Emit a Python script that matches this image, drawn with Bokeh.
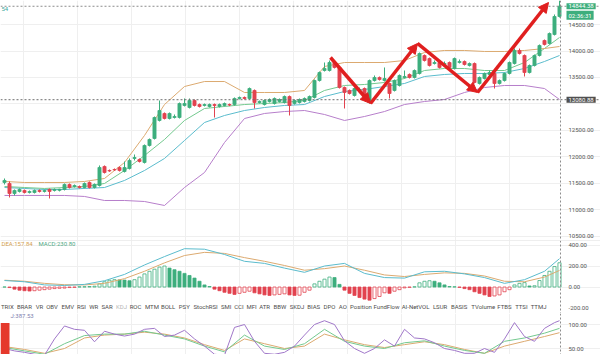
import numpy as np
from bokeh.plotting import figure
from bokeh.layouts import column
from bokeh.models import (Range1d, FixedTicker, Span, Label, Arrow, NormalHead,
                          ColumnDataSource, BoxAnnotation, Grid)
from bokeh.embed import file_html
from bokeh.resources import INLINE
from bokeh.core.properties import value

# ---------------- data ----------------
candle_open = [11519, 11500, 11311, 11349, 11368, 11330, 11330, 11368, 11349, 11387,
               11368, 11370, 11387, 11481, 11443, 11443, 11424, 11519, 11424, 11462,
               11821, 11745, 11764, 11802, 11726, 11783, 11972, 11953, 11896, 12217,
               12349, 12689, 12821, 12726, 12745, 12745, 12972, 12934, 13066, 12990,
               12972, 12953, 12990, 12953, 12972, 12990, 12990, 13104, 13123, 13104,
               13255, 13028, 12990, 13047, 13009, 13047, 13028, 13141, 13009, 13028,
               13047, 13066, 13123, 13443, 13632, 13632, 13783, 13689, 13311, 13255,
               13160, 13255, 13292, 13028, 13443, 13500, 13443, 13387, 13255, 13349,
               13500, 13557, 13500, 13576, 13915, 13858, 13764, 13783, 13745, 13783,
               13670, 13783, 13802, 13726, 13764, 13387, 13481, 13557, 13576, 13387,
               13443, 13576, 13764, 14010, 13915, 13594, 13726, 13915, 14198, 14142,
               14311, 14651]
candle_close = [11557, 11311, 11368, 11387, 11330, 11349, 11368, 11349, 11368, 11349,
                11387, 11390, 11481, 11424, 11462, 11424, 11500, 11424, 11481, 11802,
                11707, 11736, 11755, 11745, 11802, 11934, 11990, 11915, 12217, 12330,
                12745, 12877, 12726, 12821, 12764, 13009, 13009, 13066, 12972, 12953,
                12990, 12990, 12972, 12990, 13009, 12980, 13104, 13123, 13104, 13292,
                13028, 13047, 13066, 13085, 13104, 13085, 13141, 12972, 13066, 13085,
                13104, 13141, 13443, 13594, 13670, 13783, 13689, 13311, 13217, 13198,
                13292, 13274, 13123, 13443, 13500, 13462, 13481, 13198, 13443, 13538,
                13519, 13500, 13632, 13953, 13821, 13726, 13783, 13689, 13764, 13689,
                13858, 13802, 13745, 13764, 13406, 13500, 13576, 13594, 13387, 13443,
                13576, 13783, 14010, 13953, 13594, 13726, 13915, 14104, 14123, 14330,
                14651, 14844]
candle_high = [11594, 11538, 11387, 11406, 11387, 11368, 11387, 11387, 11387, 11406,
               11406, 11400, 11500, 11500, 11481, 11462, 11519, 11538, 11500, 11840,
               11840, 11764, 11783, 11821, 11915, 11972, 12047, 11972, 12236, 12349,
               12764, 13066, 12840, 12840, 12802, 13028, 13104, 13104, 13085, 13009,
               13009, 13009, 13009, 13009, 13028, 13009, 13123, 13141, 13141, 13311,
               13274, 13066, 13085, 13104, 13123, 13104, 13160, 13160, 13085, 13104,
               13123, 13160, 13462, 13613, 13783, 13821, 13821, 13708, 13330, 13274,
               13311, 13311, 13311, 13462, 13538, 13519, 13689, 13406, 13462, 13557,
               13632, 13576, 13651, 13972, 13934, 13877, 13821, 13802, 13802, 13802,
               13877, 13840, 13821, 13783, 13783, 13519, 13594, 13632, 13594, 13462,
               13594, 13802, 14047, 14047, 13934, 13745, 13934, 14123, 14217, 14349,
               14689, 14953]
candle_low = [11481, 11236, 11274, 11330, 11311, 11311, 11311, 11330, 11330, 11217,
              11349, 11350, 11368, 11406, 11424, 11406, 11406, 11406, 11406, 11443,
              11688, 11720, 11740, 11726, 11707, 11764, 11934, 11896, 11877, 12198,
              12330, 12670, 12708, 12708, 12726, 12726, 12953, 12915, 12953, 12934,
              12953, 12934, 12745, 12934, 12953, 12960, 12972, 13085, 13085, 13085,
              12915, 13009, 12972, 13028, 12990, 13028, 13009, 12783, 12990, 13009,
              13028, 13047, 13104, 13424, 13613, 13613, 13670, 13292, 12915, 13179,
              13141, 13236, 13104, 13009, 13424, 13443, 13424, 13104, 13236, 13330,
              13481, 13481, 13481, 13557, 13802, 13708, 13745, 13670, 13726, 13670,
              13651, 13764, 13726, 13708, 13387, 13368, 13462, 13519, 13292, 13368,
              13424, 13557, 13745, 13934, 13519, 13576, 13708, 13896, 14104, 14123,
              14293, 14632]

# indicator lines sampled every 4th candle (plus the last one)
line_idx = list(range(0, 109, 4)) + [111]
boll_upper = [11538, 11519, 11519, 11519, 11538, 11594, 11896, 12406, 12990, 13330,
              13424, 13424, 13217, 13217, 13217, 13255, 13708, 13783, 13783, 13783,
              13821, 13972, 14010, 14010, 13991, 13991, 14010, 14047, 14085]
boll_lower = [11274, 11274, 11274, 11274, 11255, 11179, 11179, 11160, 11085, 11424,
              11707, 12273, 12726, 12821, 12858, 12877, 12802, 12689, 12764, 12858,
              12990, 13047, 13085, 13217, 13311, 13349, 13349, 13292, 13085]
ma_fast = [11443, 11424, 11406, 11424, 11443, 11500, 11745, 12028, 12330, 12689,
           12915, 12953, 12990, 13009, 13028, 13066, 13255, 13349, 13368, 13406,
           13481, 13632, 13670, 13670, 13632, 13632, 13783, 14047, 14255]
ma_slow = [11424, 11406, 11387, 11387, 11406, 11424, 11557, 11745, 11972, 12311,
           12651, 12783, 12877, 12934, 12972, 12990, 13141, 13236, 13274, 13330,
           13387, 13519, 13557, 13576, 13576, 13594, 13670, 13802, 13915]

macd_dif = [62, 50, 20, 15, 25, 60, 120, 210, 290, 365, 360, 310, 245, 225, 180,
            140, 200, 225, 130, 90, 85, 145, 150, 125, 90, 35, 70, 150, 270]
macd_dea = [65, 55, 35, 22, 20, 35, 80, 150, 230, 300, 330, 320, 280, 245, 205,
            160, 175, 200, 160, 115, 100, 120, 135, 130, 105, 55, 50, 95, 158]
macd_hist = [0, -5, -20, -30, -35, -38, -35, -30, -25, -20,
             -15, -12, -10, -5, -3, 2, 3, 5, 8, 30,
             50, 65, 70, 68, 66, 60, 70, 95, 125, 150,
             170, 190, 200, 180, 165, 150, 130, 110, 85, 55,
             20, 5, -20, -35, -50, -60, -70, -60, -50, -40,
             -55, -65, -75, -80, -75, -70, -65, -75, -80, -78,
             -50, -30, 30, 55, 75, 95, 90, 25, -30, -60,
             -80, -100, -115, -125, -110, -90, -55, -60, -40, -25,
             -8, -3, 2, 40, 55, 60, 55, 40, 20, 5,
             2, -3, -15, -25, -45, -60, -75, -90, -85, -75,
             -45, -25, 20, 35, 42, 10, 12, 62, 110, 150,
             195, 231]

# KDJ: J sampled every 2nd candle, K and D every 4th
kdj_j_idx = list(range(0, 111, 2)) + [111]
kdj_j = [50, 45, 42, 38, 36, 70, 97, 90, 88, 64,
         86, 80, 76, 80, 90, 92, 75, 78, 88, 70,
         55, 38, 36, 94, 100, 65, 40, 38, 42, 55,
         78, 100, 108, 100, 66, 50, 40, 50, 68, 55,
         90, 72, 70, 62, 50, 46, 40, 40, 50, 42,
         70, 104, 75, 65, 92, 104, 108]
kdj_d = [52, 45, 38, 60, 77, 80, 80, 86, 78, 70, 55, 43, 78, 55, 48, 60, 90, 65,
         55, 50, 62, 66, 55, 46, 40, 65, 72, 82, 92]
kdj_k = [54, 48, 40, 50, 72, 78, 80, 84, 80, 72, 58, 46, 70, 60, 50, 55, 80, 68,
         58, 52, 58, 64, 58, 48, 40, 55, 65, 75, 83]

zigzag_idx = [65.2, 73.2, 82.6, 94.6, 108.8]
zigzag_price = [13877, 13009, 14142, 13217, 14915]

price_ticks = [10500, 11000, 11500, 12000, 12500, 13000, 13500, 14000, 14500]
macd_ticks = [-200, 0, 200, 400]
kdj_ticks = [50, 100]

tab_labels = ["TRIX", "BRAR", "VR", "OBV", "EMV", "RSI", "WR", "SAR", "KDJ", "ROC",
              "MTM", "BOLL", "PSY", "StochRSI", "SMI", "CCI", "MFI", "ATR", "BBW",
              "SKDJ", "BIAS", "DPO", "AO", "Position", "FundFlow", "AI-NetVOL",
              "LSUR", "BASIS", "TVolume", "FTBS", "TTSI", "TTMJ"]
active_tab = "KDJ"

last_price = 14844.38
ref_price = 13080.88
countdown = "02:36:31"
top_legend = "54"
macd_legend = [("DEA:157.84", "#d6a352"), ("MACD:230.80", "#4fa884")]
kdj_legend = "J:387.53"

# ---------------- style ----------------
GREEN = "#3dae7d"
RED = "#e2424f"
ARROW = "#e01f1f"
FONT = "Roboto"
W = 600
PX = 5.0                      # pixels per candle
X0 = -0.8
XR = Range1d(X0, X0 + W / PX)
grid_ticks = [3.8 + 10.8 * k for k in range(10)]
n = len(candle_open)
last_i = n - 1
GRID = "#efefef"


def px2x(px):
    return X0 + px / PX


def base_fig(h, yr, ticks, grid_ticks_y=None, hide_near=None, hide_tol=0):
    p = figure(width=W, height=h, x_range=XR, y_range=yr, output_backend="svg",
               toolbar_location=None, min_border=0, x_axis_location=None,
               y_axis_location=None)
    p.outline_line_color = None
    for g in list(p.xgrid) + list(p.ygrid):
        g.visible = False
    p.add_layout(Grid(dimension=0, ticker=FixedTicker(ticks=grid_ticks),
                      grid_line_color=GRID))
    p.add_layout(Grid(dimension=1, ticker=FixedTicker(ticks=grid_ticks_y or ticks),
                      grid_line_color=GRID))
    shown = [t for t in ticks if hide_near is None or abs(t - hide_near) > hide_tol]
    # price-scale labels on the right side, drawn through the y scale
    p.text(x=[px2x(568)] * len(shown), y=shown, text=[f"{t:.2f}" for t in shown],
           text_font=value(FONT), text_font_size="6px", text_color="#555555",
           text_align="left", text_baseline="middle")
    p.add_layout(Span(location=last_i + 0.2, dimension="height", line_color="#8c8c8c",
                      line_dash="2 2", line_width=1))
    return p


# ---------------- main price panel ----------------
main = base_fig(240, Range1d(10424, 14953), price_ticks, hide_near=ref_price, hide_tol=150)
o = np.array(candle_open, float)
c = np.array(candle_close, float)
src = ColumnDataSource(dict(x=np.arange(n), h=candle_high, l=candle_low,
                            top=np.maximum(o, c), bot=np.minimum(o, c),
                            col=[GREEN if cc >= oo else RED for oo, cc in zip(o, c)]))
main.line(line_idx, boll_lower, line_color="#b77fcb", line_width=1)
main.line(line_idx, ma_slow, line_color="#5bbccd", line_width=1)
main.line(line_idx, ma_fast, line_color="#74c98f", line_width=1)
main.line(line_idx, boll_upper, line_color="#dcaa70", line_width=1)
main.segment(x0="x", y0="h", x1="x", y1="l", line_color="col", line_width=1, source=src)
main.vbar(x="x", width=0.62, top="top", bottom="bot", fill_color="col",
          line_color="col", line_width=0.8, source=src)

main.add_layout(Span(location=last_price, dimension="width", line_color="#8c8c8c",
                     line_dash="2 2", line_width=1))
main.add_layout(Span(location=ref_price, dimension="width", line_color="#6e6e6e",
                     line_dash="2 2", line_width=1))

for k in range(len(zigzag_idx) - 1):
    main.add_layout(Arrow(end=NormalHead(size=10, fill_color=ARROW, line_color=ARROW),
                          x_start=zigzag_idx[k], y_start=zigzag_price[k],
                          x_end=zigzag_idx[k + 1], y_end=zigzag_price[k + 1],
                          line_color=ARROW, line_width=3.5))

lab_kw = dict(text_font=FONT, text_font_size="6px", text_color="white",
              text_align="left", text_baseline="middle", x_offset=3, padding=(2, 1))
lab_x = px2x(563)
main.add_layout(Label(x=lab_x, y=last_price, text=f"{last_price:.2f}",
                      background_fill_color=GREEN, **lab_kw))
main.add_layout(Label(x=lab_x, y=last_price, text=countdown, y_offset=-9,
                      background_fill_color=GREEN, **lab_kw))
main.add_layout(Label(x=lab_x, y=ref_price, text=f"{ref_price:.2f}",
                      background_fill_color="#505050", **lab_kw))
main.add_layout(Label(x=X0, y=14802, text=top_legend, text_font=FONT,
                      text_font_size="6px", text_color="#3aa89c",
                      text_baseline="middle", x_offset=1))

# ---------------- MACD panel ----------------
macd = base_fig(73, Range1d(-252, 443), macd_ticks, [0, 200, 400])
fills, lines = [], []
prev = 0
for v in macd_hist:
    colr = GREEN if v >= 0 else RED
    hollow = (v >= prev) if v >= 0 else (v > prev)
    fills.append("white" if hollow else colr)
    lines.append(colr)
    prev = v
hsrc = ColumnDataSource(dict(x=np.arange(n), top=macd_hist, f=fills, lc=lines))
macd.vbar(x="x", width=0.62, top="top", bottom=0, fill_color="f", line_color="lc",
          line_width=0.8, source=hsrc)
macd.line(line_idx, macd_dea, line_color="#dcaa70", line_width=1)
macd.line(line_idx, macd_dif, line_color="#5bbccd", line_width=1)
macd.add_layout(Span(location=443, dimension="width", line_color="#dddddd", line_width=1))

for (txt, colr), lpx in zip(macd_legend, [1, 38]):
    macd.add_layout(Label(x=px2x(lpx), y=414, text=txt, text_font=FONT,
                          text_font_size="6px", text_color=colr, text_baseline="middle"))

# tab row
CW = {"I": 0.28, "M": 0.83, "W": 0.94, "J": 0.5, "L": 0.56, "T": 0.61, "F": 0.61,
      "O": 0.78, "G": 0.78, "i": 0.22, "l": 0.22, "t": 0.28, "r": 0.33, "m": 0.83,
      "w": 0.72, "-": 0.33}
FS = 6.0


def tw(s):
    return sum(CW.get(ch, 0.68 if ch.isupper() else 0.53) for ch in s) * FS


widths = [tw(s) for s in tab_labels]
gap = (545 - sum(widths)) / (len(tab_labels) - 1)
tab_px, cur = [], 0.5
for wdt in widths:
    tab_px.append(cur)
    cur += wdt + gap
tsrc = ColumnDataSource(dict(x=[px2x(v) for v in tab_px], y=[-186] * len(tab_labels),
                             t=tab_labels,
                             c=["#b5b5b5" if s == active_tab else "#4d4d4d" for s in tab_labels]))
macd.text(x="x", y="y", text="t", text_color="c", source=tsrc, text_font=value(FONT),
          text_font_size="6px", text_baseline="middle", text_align="left")

# ---------------- KDJ panel ----------------
kdj = base_fig(41, Range1d(37.5, 123), kdj_ticks)
kdj.line(line_idx, kdj_k, line_color="#dcaa70", line_width=1)
kdj.line(line_idx, kdj_d, line_color="#74c98f", line_width=1)
kdj.line(kdj_j_idx, kdj_j, line_color="#a077c9", line_width=1)
kdj.add_layout(Label(x=px2x(10), y=118.5, text=kdj_legend, text_font=FONT,
                     text_font_size="6px", text_color="#7f7fb0", text_baseline="middle"))
kdj.add_layout(BoxAnnotation(left=X0, right=px2x(9), bottom=37.5, top=103,
                             fill_color="#e5392c", fill_alpha=1, line_color=None))

layout = column(main, macd, kdj, spacing=0)
open("out.html", "w").write(file_html(layout, INLINE))
